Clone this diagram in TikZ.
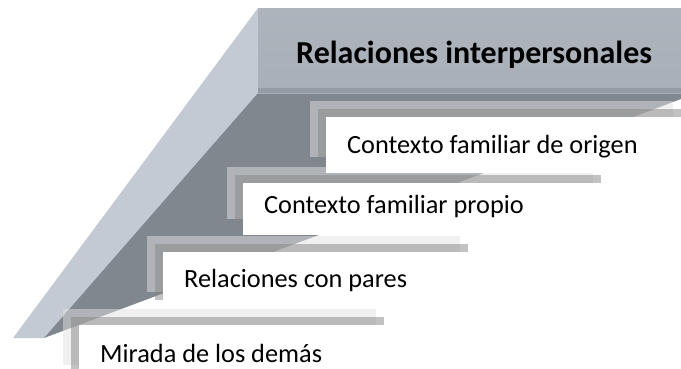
\documentclass[tikz,border=0pt]{standalone}
\usepackage{fontspec}
\setmainfont{Carlito}
\usetikzlibrary{calc}
\definecolor{topface}{HTML}{A9AFB8}
\definecolor{topfacelt}{HTML}{AEB4BC}
\definecolor{topbevel}{HTML}{969CA4}
\definecolor{sideface}{HTML}{C3CAD3}
\definecolor{darkface}{HTML}{80878F}
\definecolor{outerbar}{HTML}{E1E1E1}
\definecolor{innerbar}{HTML}{858585}
\tikzset{
  plate/.style={anchor=north west, inner sep=0pt, minimum width=#1},
  outerplate/.style={plate=#1, fill=outerbar, fill opacity=0.5},
  innerplate/.style={plate=#1, fill=innerbar, fill opacity=0.5},
  whiteplate/.style={plate=#1, fill=white},
  steptext/.style={anchor=base west, inner sep=0pt, font=\fontsize{26.3}{30}\selectfont},
  titletext/.style={anchor=base west, inner sep=0pt, font=\fontsize{32}{36}\selectfont\bfseries},
}
\begin{document}
\begin{tikzpicture}[x=1pt,y=-1pt]
\useasboundingbox (0,0) rectangle (681,368);
\clip (0,0) rectangle (681,368);
% wedge faces
\fill[sideface] (258,8) -- (258,93) -- (44,338) -- (13,338) -- cycle;
\fill[darkface] (258,93) -- (681,93) -- (681,99) -- (44,338) -- cycle;
% steps, bottom first
\foreach \i/\ox/\oy/\W/\H/\bl/\txt in {
  4/63/309/313/56/362/Mirada de los demás,
  3/147/236/313/56/287/Relaciones con pares,
  2/227/167/366/52/213/Contexto familiar propio,
  1/310/101/363/56/153/Contexto familiar de origen}{
  \node[outerplate=\W, minimum height=\H] (o\i) at (\ox,\oy) {};
  \node[innerplate=\W, minimum height=\H] (n\i) at ($(o\i.north west)+(8,8)$) {};
  \node[whiteplate=\W, minimum height=\H] (w\i) at ($(o\i.north west)+(16,16)$) {};
  \node[steptext] (t\i) at (\ox+37,\bl) {\txt};
}
% top box
\node[anchor=north west, inner sep=0pt, minimum width=423, minimum height=85,
      top color=topfacelt, bottom color=topface] (top) at (258,8) {};
\fill[topbevel] (top.south west) ++(0,-5) rectangle (top.south east);
\node[titletext] (title) at (296,63) {Relaciones interpersonales};
\end{tikzpicture}
\end{document}
